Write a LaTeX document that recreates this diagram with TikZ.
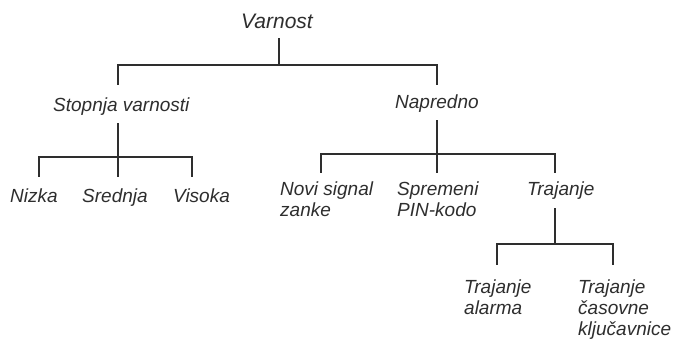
\documentclass[tikz,border=0pt]{standalone}
\usepackage{fontspec}
\setmainfont{Liberation Sans}
\usetikzlibrary{calc}
\definecolor{ink}{HTML}{2E2E2E}
\begin{document}
\begin{tikzpicture}[x=1pt,y=-1pt,
  lbl/.style={inner sep=0pt, anchor=base west, align=left, font=\fontsize{19}{21}\selectfont\itshape, text=ink},
  ttl/.style={inner sep=0pt, anchor=base, font=\fontsize{21}{24}\selectfont\itshape, text=ink},
  conn/.style={draw=ink, line width=1.8pt}]
\useasboundingbox[fill=white] (0,0) rectangle (673,338);
% nodes (base west = baseline of the last line)
\node[ttl] (v) at (277,28) {Varnost};
\node[lbl] (s) at (53,111) {Stopnja varnosti};
\node[lbl] (p) at (395,108) {Napredno};
\node[lbl] (a1) at (10,202) {Nizka};
\node[lbl] (a2) at (82,202) {Srednja};
\node[lbl] (a3) at (173,202) {Visoka};
\node[lbl] (b1) at (280,216) {Novi signal\\zanke};
\node[lbl] (b2) at (397,216) {Spremeni\\PIN-kodo};
\node[lbl] (b3) at (527,195) {Trajanje};
\node[lbl] (c1) at (464,314) {Trajanje\\alarma};
\node[lbl] (c2) at (578,335) {Trajanje\\časovne\\ključavnice};
% junctions
\coordinate (j0) at (279,65);
\coordinate (j1) at (118,157);
\coordinate (j2) at (437,154);
\coordinate (j3) at (555,244);
% connectors
\draw[conn] ($(v.base)+(2,10)$) -- (j0);
\draw[conn] (j0) -| ($(s.base west)+(65,-26)$);
\draw[conn] (j0) -| ($(p.base west)+(42,-23)$);
\draw[conn] ($(s.base west)+(65,12)$) -- (j1);
\draw[conn] (j1) -| ($(a1.base west)+(29,-25)$);
\draw[conn] (j1) -- ($(a2.base west)+(36,-25)$);
\draw[conn] (j1) -| ($(a3.base west)+(19,-25)$);
\draw[conn] ($(p.base west)+(42,12)$) -- (j2);
\draw[conn] (j2) -| ($(b1.base west)+(41,-43)$);
\draw[conn] (j2) -- ($(b2.base west)+(40,-43)$);
\draw[conn] (j2) -| ($(b3.base west)+(28,-22)$);
\draw[conn] ($(b3.base west)+(28,13)$) -- (j3);
\draw[conn] (j3) -| ($(c1.base west)+(33,-49)$);
\draw[conn] (j3) -| ($(c2.base west)+(35,-70)$);
\end{tikzpicture}
\end{document}
